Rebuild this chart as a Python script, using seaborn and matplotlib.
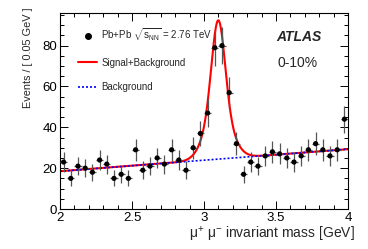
import numpy as np
import pandas as pd
import matplotlib
matplotlib.use("Agg")
import matplotlib.pyplot as plt
import seaborn as sns
from matplotlib.lines import Line2D
from matplotlib.ticker import MultipleLocator, FuncFormatter

# ---------------- data ----------------
mass_centers = [2.025, 2.075, 2.125, 2.175, 2.225, 2.275, 2.325, 2.375, 2.425, 2.475,
                2.525, 2.575, 2.625, 2.675, 2.725, 2.775, 2.825, 2.875, 2.925, 2.975,
                3.025, 3.075, 3.125, 3.175, 3.225, 3.275, 3.325, 3.375, 3.425, 3.475,
                3.525, 3.575, 3.625, 3.675, 3.725, 3.775, 3.825, 3.875, 3.925, 3.975]
events = [23, 15, 21, 20, 18, 24, 22, 15, 17, 15,
          29, 19, 21, 25, 22, 29, 24, 19, 30, 37,
          47, 79, 80, 57, 32, 17, 23, 21, 26, 28,
          27, 25, 23, 26, 29, 32, 29, 26, 29, 44]
bin_half_width = 0.025

# fit-curve parameters
bkg_at_2 = 18.5          # background level at 2 GeV
bkg_slope = 5.4          # per GeV
peak_mass = 3.099
core_amp, core_sigma = 43.0, 0.045
wide_amp, wide_sigma = 25.0, 0.085

legend_labels = [r"Pb+Pb $\sqrt{\mathregular{s}_{\mathregular{NN}}}$ = 2.76 TeV",
                 "Signal+Background", "Background"]

# ---------------- style ----------------
sns.set_style("ticks")
plt.rcParams["font.family"] = ["Liberation Sans", "DejaVu Sans"]
plt.rcParams["mathtext.fontset"] = "custom"
plt.rcParams["mathtext.rm"] = "Liberation Sans"
plt.rcParams["mathtext.it"] = "Liberation Sans:italic"
plt.rcParams["mathtext.bf"] = "Liberation Sans:bold"

fig, ax = plt.subplots(figsize=(3.68, 2.49), dpi=100)
fig.subplots_adjust(left=60/368, right=348/368, top=1-13/249, bottom=1-209/249)

df = pd.DataFrame({"mass": mass_centers, "events": events})
df["err"] = np.sqrt(df["events"])

xs = np.linspace(2.0, 4.0, 801)
bkg = bkg_at_2 + bkg_slope * (xs - 2.0)
sig = (core_amp * np.exp(-0.5 * ((xs - peak_mass) / core_sigma) ** 2)
       + wide_amp * np.exp(-0.5 * ((xs - peak_mass) / wide_sigma) ** 2))
curves = pd.DataFrame({"mass": xs, "sb": bkg + sig, "bkg": bkg})

sns.lineplot(data=curves, x="mass", y="sb", ax=ax, color="red", lw=1.5,
             sort=False, estimator=None, zorder=2)
sns.lineplot(data=curves, x="mass", y="bkg", ax=ax, color="blue", lw=1.2,
             linestyle=(0, (1.2, 1.2)), sort=False, estimator=None, zorder=2.5)

ax.errorbar(df["mass"], df["events"], yerr=df["err"], xerr=bin_half_width,
            fmt="none", ecolor="#555555", elinewidth=0.9, capsize=0, zorder=3)
sns.scatterplot(data=df, x="mass", y="events", ax=ax, color="black", s=14,
                edgecolor="none", zorder=4)

ax.set_xlim(2.0, 4.0)
ax.set_ylim(0, 96)
ax.xaxis.set_major_locator(MultipleLocator(0.5))
ax.xaxis.set_minor_locator(MultipleLocator(0.1))
ax.yaxis.set_major_locator(MultipleLocator(20))
ax.yaxis.set_minor_locator(MultipleLocator(5))
ax.xaxis.set_major_formatter(FuncFormatter(lambda v, p: f"{v:g}"))
ax.tick_params(which="both", direction="in", top=True, right=True,
               labelsize=9.5, width=0.7, pad=2, colors="black")
ax.tick_params(which="major", length=6)
ax.tick_params(which="minor", length=3)
for sp in ax.spines.values():
    sp.set_linewidth(0.8)
    sp.set_color("black")

ax.set_xlabel(r"μ$^{+}$ μ$^{-}$ invariant mass [GeV]", fontsize=10, ha="right")
ax.xaxis.set_label_coords(1.025, -0.082)
ax.set_ylabel("Events / [ 0.05 GeV ]", fontsize=7.8, ha="right")
ax.yaxis.set_label_coords(-0.095, 1.03)

handles = [Line2D([], [], ls="none", marker="o", color="black", ms=4),
           Line2D([], [], color="red", lw=1.5),
           Line2D([], [], color="blue", lw=1.2, ls=(0, (1.2, 1.2)))]
ax.legend(handles, legend_labels, loc="upper left", bbox_to_anchor=(0.0625, 0.93),
          frameon=False, fontsize=7, handlelength=2.0, handletextpad=0.4,
          labelspacing=1.48, borderpad=0, borderaxespad=0)

ax.text(0.83, 0.878, "ATLAS", transform=ax.transAxes, ha="center", va="center",
        fontsize=10, fontweight="bold", fontstyle="italic")
ax.text(0.826, 0.745, "0-10%", transform=ax.transAxes, ha="center", va="center",
        fontsize=10)

fig.savefig("out.png", dpi=100)
